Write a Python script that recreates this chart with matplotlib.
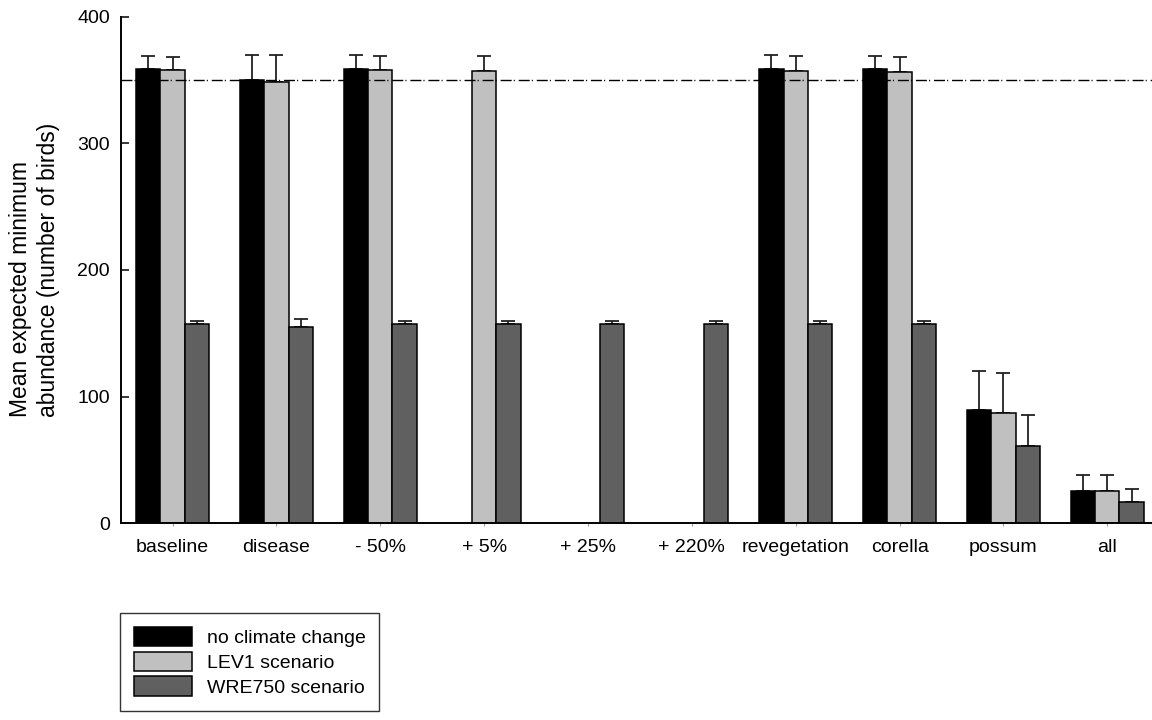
import numpy as np
import matplotlib.pyplot as plt
from matplotlib.patches import Patch

plt.rcParams['font.family'] = ['Liberation Sans', 'DejaVu Sans']

scenarios = ['baseline', 'disease', '- 50%', '+ 5%', '+ 25%', '+ 220%',
             'revegetation', 'corella', 'possum', 'all']
series = ['no climate change', 'LEV1 scenario', 'WRE750 scenario']

nan = np.nan
no_cc = [359, 350, 359, nan, nan, nan, 359, 358.7, 89.3, 25.5]
no_cc_err = [10, 20, 10.5, nan, nan, nan, 10.5, 10.5, 31.3, 12.5]
lev1 = [357.6, 348.5, 358.2, 357.4, nan, nan, 357.1, 356.6, 87.5, 25.3]
lev1_err = [10.8, 21, 10.8, 11.3, nan, nan, 11.6, 11.8, 31.5, 12.7]
wre750 = [157, 155.3, 157, 157, 157, 157, 157, 157, 61, 17.3]
wre750_err = [2.8, 5.7, 2.8, 2.8, 2.8, 2.8, 2.8, 2.8, 24.4, 10]
threshold = 350

colors = ['#000000', '#c0c0c0', '#606060']

fig = plt.figure(figsize=(11.52, 7.2), dpi=100)
ax = fig.add_axes([0.105, 0.273, 0.895, 0.704])

x = np.arange(len(scenarios))
w = 0.234
for i, (vals, errs) in enumerate([(no_cc, no_cc_err), (lev1, lev1_err), (wre750, wre750_err)]):
    vals = np.array(vals, dtype=float)
    errs = np.array(errs, dtype=float)
    pos = x + (i - 1) * w
    ax.bar(pos, vals, width=w, color=colors[i], edgecolor='black', linewidth=1.1, zorder=2)
    ok = ~np.isnan(vals)
    ax.errorbar(pos[ok], vals[ok], yerr=[np.zeros(ok.sum()), errs[ok]],
                fmt='none', ecolor='#222222', elinewidth=1.3, capsize=4.7,
                capthick=1.3, zorder=1)

# reference level: long dash followed by a dot
line = ax.axhline(threshold, color='black', linewidth=1.0, zorder=3)
line.set_dashes((7.9, 1.5, 0.8, 2.8))

ax.set_xlim(-0.497, 9.43)
ax.set_ylim(0, 400)
ax.set_yticks([0, 100, 200, 300, 400])
ax.set_xticks(x)
ax.set_xticklabels(scenarios)
ax.tick_params(axis='y', direction='in', length=6, width=1.1, pad=8, labelsize=14)
ax.tick_params(axis='x', direction='out', length=2.5, width=0.8, color='#999999',
               pad=9, labelsize=14)
for s in ['top', 'right']:
    ax.spines[s].set_visible(False)
for s in ['left', 'bottom']:
    ax.spines[s].set_linewidth(1.4)

ax.set_ylabel('Mean expected minimum\nabundance (number of birds)', fontsize=16.5,
              labelpad=12, linespacing=1.3, multialignment='left')

handles = [Patch(facecolor=c, edgecolor='black', linewidth=1.1) for c in colors]
leg = fig.legend(handles, series, loc='upper left', bbox_to_anchor=(0.104, 0.149),
                 fontsize=14, frameon=True, fancybox=False, edgecolor='black',
                 handlelength=2.98, handleheight=1.18, labelspacing=0.23,
                 handletextpad=0.76, borderpad=0.72, borderaxespad=0)
leg.get_frame().set_linewidth(1.0)

fig.savefig('out.png', dpi=100)
